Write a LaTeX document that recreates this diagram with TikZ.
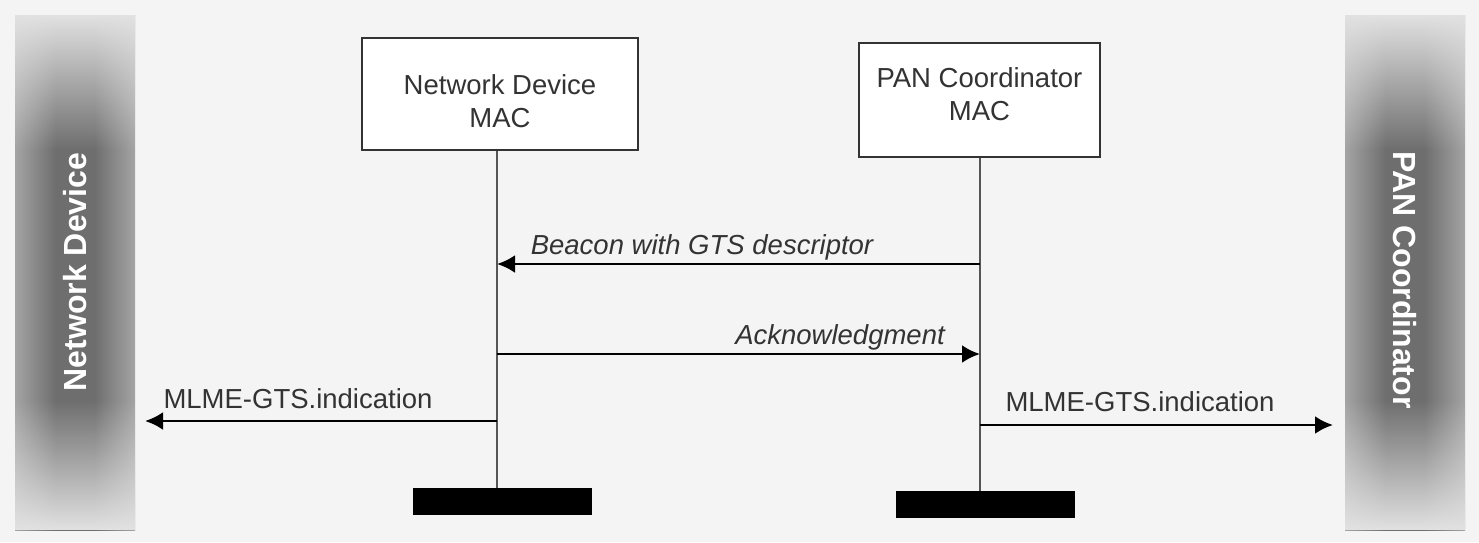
\documentclass[tikz,border=0pt]{standalone}
\usepackage{fontspec}
\setmainfont{Liberation Sans}
\usetikzlibrary{arrows.meta,fadings}
\definecolor{bgc}{HTML}{F4F4F4}
\definecolor{sbedge}{HTML}{E2E2E2}
\definecolor{sbmidl}{HTML}{B4B4B4}
\definecolor{sbmid}{HTML}{6E6E6E}
\definecolor{ink}{HTML}{333333}
\definecolor{lifec}{HTML}{555555}
\pgfdeclarehorizontalshading{sbshade}{100bp}{color(0bp)=(sbedge); color(20bp)=(sbmidl); color(42bp)=(sbmid); color(58bp)=(sbmid); color(80bp)=(sbmidl); color(100bp)=(sbedge)}
\tikzfading[name=fadetop, top color=transparent!0, bottom color=transparent!100]
\tikzfading[name=fadebot, top color=transparent!100, bottom color=transparent!0]
\tikzset{
  macbox/.style={draw=ink, line width=1.8pt, fill=white, inner sep=0pt},
  boxtext/.style={text=ink, font=\fontsize{27.5pt}{33pt}\selectfont, align=center, inner sep=0pt},
  lbl/.style={text=ink, font=\fontsize{27.5pt}{33pt}\selectfont, inner sep=0pt},
  ilbl/.style={lbl, font=\fontsize{27.5pt}{33pt}\selectfont\itshape},
  sidetext/.style={text=white, font=\fontsize{32pt}{36pt}\selectfont\bfseries, inner sep=0pt},
  lifeline/.style={draw=lifec, line width=1.8pt},
  msg/.style={draw=black, line width=2.8pt, -{Latex[length=18pt,width=18pt]}},
  bar/.style={fill=black, inner sep=0pt},
  sidebar/.style={shading=sbshade}
}
\begin{document}
\begin{tikzpicture}[x=1pt,y=-1pt]
\useasboundingbox (0,0) rectangle (1479,542);
\fill[bgc] (0,0) rectangle (1479,542);
% side bars
\shade[sidebar] (15,15) rectangle (135,530);
\fill[sbedge, path fading=fadetop] (15,15) rectangle (135,150);
\fill[sbedge, path fading=fadebot] (15,400) rectangle (135,530);
\shade[sidebar] (1345,15) rectangle (1465,530);
\fill[sbedge, path fading=fadetop] (1345,15) rectangle (1465,150);
\fill[sbedge, path fading=fadebot] (1345,400) rectangle (1465,530);
\node[sidetext, rotate=90] (lside) at (75,272) {Network Device};
\node[sidetext, rotate=-90] (rside) at (1405,280) {PAN Coordinator};
% boxes
\node[macbox, minimum width=276pt, minimum height=112pt] (ndmac) at (500,94) {};
\node[boxtext] (ndtxt) at (500,101) {Network Device\\MAC};
\node[macbox, minimum width=241pt, minimum height=114pt] (pcmac) at (979.5,100) {};
\node[boxtext] (pctxt) at (979.5,94) {PAN Coordinator\\MAC};
% bars
\node[bar, minimum width=179pt, minimum height=27pt] (bar1) at (502.5,501.5) {};
\node[bar, minimum width=179pt, minimum height=27pt] (bar2) at (985.5,504.5) {};
% lifelines
\coordinate (l1) at (497,0);
\coordinate (l2) at (980,0);
\draw[lifeline] (l1 |- ndmac.south) -- (l1 |- bar1.north);
\draw[lifeline] (l2 |- pcmac.south) -- (l2 |- bar2.north);
% messages
\coordinate (m1a) at (980,264);
\coordinate (m1b) at (497,264);
\draw[msg] (m1a) -- (m1b);
\node[ilbl] (m1l) at (702,247) {Beacon with GTS descriptor};
\coordinate (m2a) at (497,354);
\coordinate (m2b) at (980,354);
\draw[msg] (m2a) -- (m2b);
\node[ilbl] (m2l) at (840,337) {Acknowledgment};
\coordinate (m3a) at (497,421);
\coordinate (m3b) at (145,421);
\draw[msg] (m3a) -- (m3b);
\node[lbl] (m3l) at (298,399) {MLME-GTS.indication};
\coordinate (m4a) at (980,425);
\coordinate (m4b) at (1333,425);
\draw[msg] (m4a) -- (m4b);
\node[lbl] (m4l) at (1140,402) {MLME-GTS.indication};
\end{tikzpicture}
\end{document}
